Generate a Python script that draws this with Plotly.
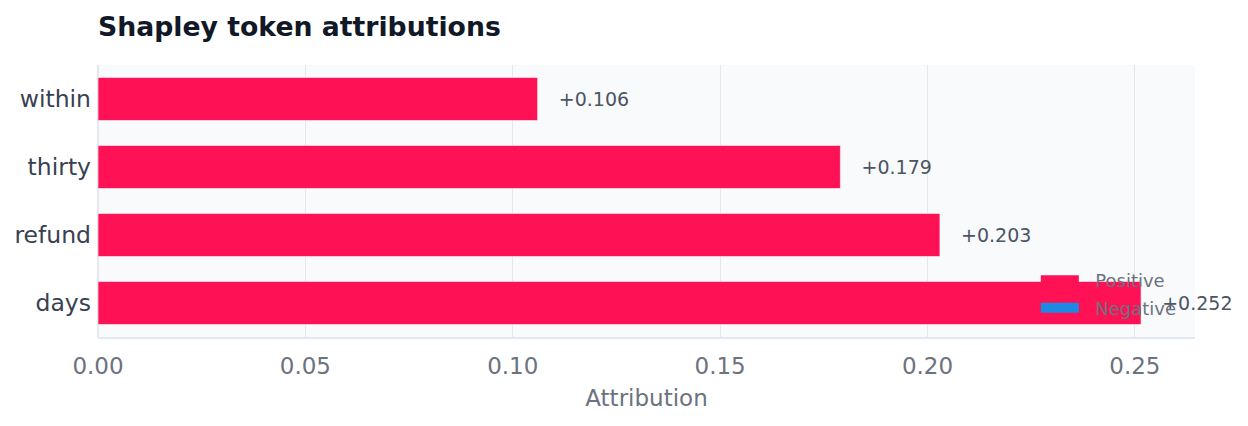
import plotly.graph_objects as go

tokens = ["days", "refund", "thirty", "within"]
attributions = [0.2515, 0.203, 0.179, 0.106]
labels = ["+0.252", "+0.203", "+0.179", "+0.106"]

pos_color = "#ff1155"
neg_color = "#1e88e5"
gap = "\u00a0" * 3  # push value labels away from the bar ends

fig = go.Figure()

fig.add_trace(go.Bar(
    y=tokens, x=attributions, orientation="h",
    marker=dict(color=pos_color, line=dict(color="rgba(255,255,255,0.6)", width=1)),
    text=[gap + t for t in labels], textposition="outside", cliponaxis=False,
    textfont=dict(size=19, color="#4b5563"),
    showlegend=False,
))

# legend entries drawn as thick line swatches
fig.add_trace(go.Scatter(x=[None], y=[None], mode="lines", name="\u00a0\u00a0Positive",
                         line=dict(color=pos_color, width=12), legendgroup="p"))
fig.add_trace(go.Scatter(x=[None], y=[None], mode="lines", name="\u00a0\u00a0Negative",
                         line=dict(color=neg_color, width=12), legendgroup="n"))

fig.update_layout(
    width=1232, height=410,
    margin=dict(l=90, r=45, t=57, b=81),
    font=dict(family="DejaVu Sans", color="#374151"),
    title=dict(text="<b>Shapley token attributions</b>", x=0, xref="paper", xanchor="left",
               y=1 - 19 / 410, yanchor="middle", font=dict(size=26.7, color="#111827")),
    plot_bgcolor="#f8fafc", paper_bgcolor="white",
    bargap=0.365,
    legend=dict(x=0.988, y=0.04, xanchor="right", yanchor="bottom", bgcolor="rgba(0,0,0,0)",
                font=dict(size=18, color="#6b7280"), itemwidth=38, tracegroupgap=1),
)

fig.update_xaxes(
    range=[0, 0.2645], dtick=0.05, tickformat=".2f", automargin=False,
    showgrid=True, gridcolor="#e5e7eb", zeroline=True, zerolinecolor="#e5e7eb",
    showline=True, linecolor="#e2e8f0", linewidth=2,
    tickfont=dict(size=23, color="#6b7280"), ticklabelstandoff=7,
    title=dict(text="Attribution", font=dict(size=23, color="#6b7280"), standoff=12),
)
fig.update_yaxes(
    showgrid=False, automargin=False,
    tickfont=dict(size=23.5, color="#374151"), ticklabelstandoff=6,
)

fig.write_html("out.html")
